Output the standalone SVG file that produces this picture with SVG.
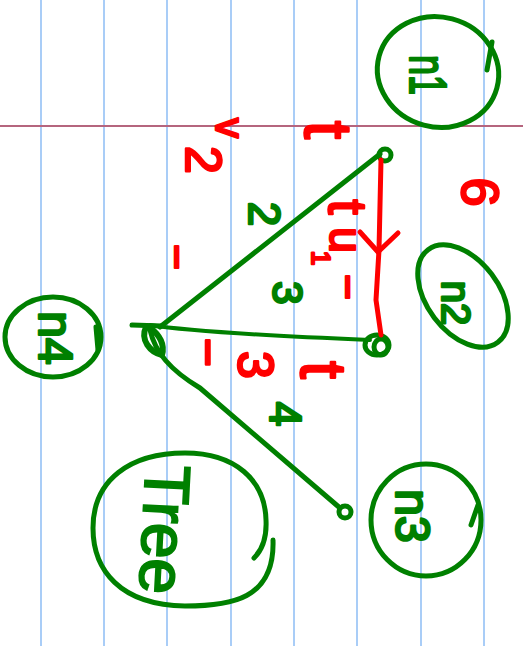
<svg xmlns="http://www.w3.org/2000/svg" width="523" height="646" viewBox="0 0 523 646">
<style>
.bl{stroke:#a9cdf7;stroke-width:2}
.pk{stroke:#b5657e;stroke-width:2}
.g{fill:none;stroke:#008000;stroke-width:5;stroke-linecap:round;stroke-linejoin:round}
.r{fill:none;stroke:#ff0000;stroke-width:5;stroke-linecap:round;stroke-linejoin:round}
.tg{fill:#008000;stroke:#008000;stroke-width:2.5;stroke-linejoin:round;font-family:"Liberation Sans","DejaVu Sans",sans-serif;text-anchor:middle;dominant-baseline:central}
.tr{fill:#ff0000;stroke:#ff0000;stroke-width:2.5;stroke-linejoin:round;font-family:"Liberation Sans","DejaVu Sans",sans-serif;text-anchor:middle;dominant-baseline:central}
</style>
<rect width="523" height="646" fill="#ffffff"/>
<g id="paper">
<line class="bl" x1="41" y1="0" x2="41" y2="646"/>
<line class="bl" x1="104" y1="0" x2="104" y2="646"/>
<line class="bl" x1="167" y1="0" x2="167" y2="646"/>
<line class="bl" x1="231" y1="0" x2="231" y2="646"/>
<line class="bl" x1="294" y1="0" x2="294" y2="646"/>
<line class="bl" x1="357" y1="0" x2="357" y2="646"/>
<line class="bl" x1="421" y1="0" x2="421" y2="646"/>
<line class="bl" x1="484" y1="0" x2="484" y2="646"/>
<line class="pk" x1="0" y1="126" x2="523" y2="126"/>
</g>
<g id="connectors">
<path class="g" d="M132,325 L162,326"/>
<path class="g" d="M160,327 L380,154"/>
<path class="g" d="M150,325 Q200,333 370,340" style="stroke-width:4"/>
<path class="g" d="M150,330 C155,352 170,370 200,388 L340,508"/>
<path class="g" d="M146,327 C140,340 150,352 162,355 C165,345 160,335 150,328" style="stroke-width:6"/>
<circle class="g" cx="385" cy="155" r="6"/>
<ellipse class="g" cx="377" cy="345" rx="12" ry="10"/>
<ellipse class="g" cx="381" cy="347" rx="7" ry="8"/>
<circle class="g" cx="345" cy="512" r="6"/>
<path class="r" d="M381,160 L379,250 L376,300 L381,335"/>
<path class="r" d="M360,232 L378,252 L398,233"/>
<text class="tg" font-size="44" transform="translate(264,214) rotate(90)">2</text>
<text class="tg" font-size="42" transform="translate(287,293) rotate(90)">3</text>
<text class="tg" font-size="44" transform="translate(285,414) rotate(90)">4</text>
</g>
<g id="n1">
<ellipse class="g" cx="438" cy="72" rx="61" ry="55" transform="rotate(15 438 72)"/>
<path class="g" d="M492,42 L487,70"/>
<text class="tg" font-size="52" textLength="40" lengthAdjust="spacingAndGlyphs" transform="translate(428,75) rotate(90)">n1</text>
</g>
<g id="n2">
<ellipse class="g" cx="463" cy="296" rx="36" ry="58" transform="rotate(-37 463 296)"/>
<text class="tg" font-size="40" transform="translate(456,303) rotate(90)">n2</text>
</g>
<g id="n3">
<ellipse class="g" cx="426" cy="520" rx="55" ry="56"/>
<path class="g" d="M471,525 L478,505"/>
<text class="tg" font-size="48" transform="translate(412,516) rotate(90)">n3</text>
</g>
<g id="n4">
<ellipse class="g" cx="53" cy="337" rx="48" ry="40"/>
<path class="g" d="M96,327 L98,350"/>
<text class="tg" font-size="48" transform="translate(55,338) rotate(90)">n4</text>
</g>
<g id="tree">
<path class="g" d="M273,540 C275,600 230,606 185,606 C120,605 93,570 93,528 C93,480 130,453 185,453 C235,453 265,480 266,520 C267,540 260,552 254,558"/>
<text fill="#008000" stroke="#008000" stroke-width="2" font-family="Liberation Sans, DejaVu Sans, sans-serif" font-size="64" transform="translate(146,464) rotate(93)">Tree</text>
</g>
<g id="red-labels">
<text class="tr" font-size="50" transform="translate(203,160) rotate(90)">2</text>
<text class="tr" font-size="40" transform="translate(230,128) rotate(90)">v</text>
<text class="tr" font-size="66" transform="translate(328,130) rotate(90)">t</text>
<text class="tr" font-size="52" transform="translate(480,192) rotate(90)">6</text>
<text class="tr" font-size="54" transform="translate(348,207) rotate(90)">t</text>
<text class="tr" font-size="46" transform="translate(346,240) rotate(90)">u</text>
<text class="tr" font-size="26" transform="translate(321,258) rotate(90)">1</text>
<text class="tr" font-size="44" transform="translate(348,287) rotate(90)">−</text>
<text class="tr" font-size="44" transform="translate(177,257) rotate(90)">−</text>
<text class="tr" font-size="50" transform="translate(208,352) rotate(90)">−</text>
<text class="tr" font-size="50" transform="translate(255,365) rotate(90)">3</text>
<text class="tr" font-size="64" transform="translate(323,370) rotate(90)">t</text>
</g>
</svg>
